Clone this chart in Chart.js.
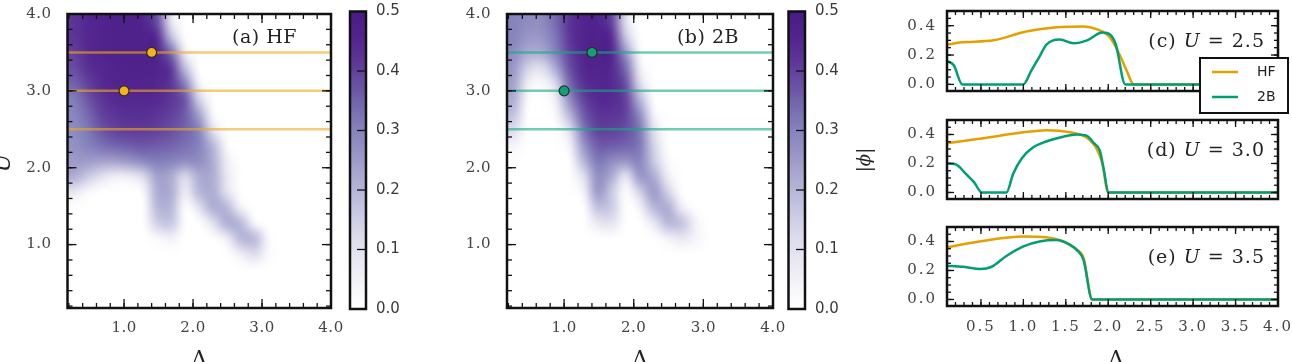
<!DOCTYPE html>
<html lang="en">
<head>
  <meta charset="UTF-8">
  <title>HF vs 2B order parameter</title>
  <style>
    html, body { margin: 0; padding: 0; background: #fff; }
    #wrap { position: relative; width: 1292px; height: 362px; overflow: hidden; }
    #wrap canvas { position: absolute; left: 0; top: 0; }
  </style>
  <script src="https://cdn.jsdelivr.net/npm/chart.js"></script>
</head>
<body>
<div id="wrap">
  <canvas id="heatA" width="1292" height="362"></canvas>
  <canvas id="cbarA" width="1292" height="362"></canvas>
  <canvas id="heatB" width="1292" height="362"></canvas>
  <canvas id="cbarB" width="1292" height="362"></canvas>
  <canvas id="cutC" width="1292" height="362"></canvas>
  <canvas id="cutD" width="1292" height="362"></canvas>
  <canvas id="cutE" width="1292" height="362"></canvas>
</div>

<script>
  // ---- data ----
  // heatmap cell centres
  const gridDelta = [0.3, 0.5, 0.7, 0.9, 1.1, 1.3, 1.5, 1.7, 1.9, 2.1, 2.3, 2.5, 2.7, 2.9, 3.1, 3.3, 3.5, 3.7, 3.9];
  const gridU = [3.9, 3.7, 3.5, 3.3, 3.1, 2.9, 2.7, 2.5, 2.3, 2.1, 1.9, 1.7, 1.5, 1.3, 1.1, 0.9, 0.7, 0.5, 0.3];

  // |phi| on the grid, rows follow gridU, columns follow gridDelta
  const hfGrid = [
    [.42,.45,.46,.47,.47,.46,.38,.08,0,0,0,0,0,0,0,0,0,0,0],
    [.42,.45,.46,.47,.47,.47,.44,.18,0,0,0,0,0,0,0,0,0,0,0],
    [.40,.44,.46,.47,.47,.47,.46,.34,.06,0,0,0,0,0,0,0,0,0,0],
    [.38,.43,.45,.46,.47,.47,.46,.42,.18,0,0,0,0,0,0,0,0,0,0],
    [.35,.40,.44,.46,.46,.46,.45,.42,.30,.04,0,0,0,0,0,0,0,0,0],
    [.31,.37,.42,.44,.45,.45,.44,.42,.37,.14,0,0,0,0,0,0,0,0,0],
    [.29,.34,.40,.42,.43,.43,.42,.40,.36,.24,.02,0,0,0,0,0,0,0,0],
    [.28,.32,.37,.40,.41,.41,.40,.38,.35,.30,.10,0,0,0,0,0,0,0,0],
    [.27,.30,.33,.35,.36,.37,.36,.35,.33,.30,.20,.02,0,0,0,0,0,0,0],
    [.25,.25,.24,.24,.26,.29,.31,.30,.28,.28,.22,.06,0,0,0,0,0,0,0],
    [.22,.16,.10,.05,.06,.12,.24,.22,.12,.22,.22,.08,0,0,0,0,0,0,0],
    [.08,.02,0,0,0,.02,.22,.22,.06,.20,.22,.10,0,0,0,0,0,0,0],
    [0,0,0,0,0,0,.20,.20,0,.10,.22,.20,.04,0,0,0,0,0,0],
    [0,0,0,0,0,0,.15,.17,0,0,.10,.22,.20,.02,0,0,0,0,0],
    [0,0,0,0,0,0,.02,.05,0,0,0,.06,.20,.20,.02,0,0,0,0],
    [0,0,0,0,0,0,0,0,0,0,0,0,.06,.12,.02,0,0,0,0],
    [0,0,0,0,0,0,0,0,0,0,0,0,0,0,0,0,0,0,0],
    [0,0,0,0,0,0,0,0,0,0,0,0,0,0,0,0,0,0,0],
    [0,0,0,0,0,0,0,0,0,0,0,0,0,0,0,0,0,0,0]
  ];
  const twoBGrid = [
    [.30,.28,.28,.34,.42,.46,.46,.40,.10,0,0,0,0,0,0,0,0,0,0],
    [.30,.26,.26,.32,.42,.46,.47,.44,.16,0,0,0,0,0,0,0,0,0,0],
    [.28,.22,.22,.30,.40,.46,.47,.46,.26,.02,0,0,0,0,0,0,0,0,0],
    [.26,.14,.10,.22,.38,.45,.46,.45,.34,.06,0,0,0,0,0,0,0,0,0],
    [.24,.06,.02,.12,.34,.43,.45,.44,.38,.12,0,0,0,0,0,0,0,0,0],
    [.22,.02,0,.06,.28,.40,.44,.44,.40,.20,0,0,0,0,0,0,0,0,0],
    [.18,0,0,.02,.20,.36,.42,.42,.40,.28,.04,0,0,0,0,0,0,0,0],
    [.12,0,0,0,.10,.32,.40,.40,.38,.32,.10,0,0,0,0,0,0,0,0],
    [.04,0,0,0,.04,.26,.36,.36,.35,.32,.14,0,0,0,0,0,0,0,0],
    [0,0,0,0,0,.20,.32,.28,.26,.30,.16,.02,0,0,0,0,0,0,0],
    [0,0,0,0,0,.10,.28,.22,.08,.26,.22,.06,0,0,0,0,0,0,0],
    [0,0,0,0,0,.04,.26,.16,0,.14,.26,.14,0,0,0,0,0,0,0],
    [0,0,0,0,0,0,.18,.16,0,.04,.20,.22,.06,0,0,0,0,0,0],
    [0,0,0,0,0,0,.08,.10,0,0,.08,.20,.18,.04,0,0,0,0,0],
    [0,0,0,0,0,0,0,0,0,0,0,.04,.08,.04,0,0,0,0,0],
    [0,0,0,0,0,0,0,0,0,0,0,0,0,0,0,0,0,0,0],
    [0,0,0,0,0,0,0,0,0,0,0,0,0,0,0,0,0,0,0],
    [0,0,0,0,0,0,0,0,0,0,0,0,0,0,0,0,0,0,0],
    [0,0,0,0,0,0,0,0,0,0,0,0,0,0,0,0,0,0,0]
  ];

  // cuts at fixed U and the two marked points
  const cutU = [2.5, 3.0, 3.5];
  const cutDelta = [0.1, 4.0];
  const markDelta = [1.0, 1.4];
  const markU = [3.0, 3.5];

  // tick labels
  const heatTicks = [1.0, 2.0, 3.0, 4.0];
  const cbarTicks = [0.0, 0.1, 0.2, 0.3, 0.4, 0.5];
  const phiTicks = [0.0, 0.2, 0.4];
  const cutTicks = [0.5, 1.0, 1.5, 2.0, 2.5, 3.0, 3.5, 4.0];

  // |phi| along the cuts
  const cHfDelta = [0.1, 0.25, 0.65, 1.03, 1.39, 1.71, 1.87, 2.02, 2.14, 2.22, 2.3, 4.0];
  const cHfPhi   = [0.27, 0.285, 0.30, 0.36, 0.39, 0.395, 0.375, 0.32, 0.195, 0.09, 0.0, 0.0];
  const c2bDelta = [0.1, 0.18, 0.28, 1.0, 1.09, 1.19, 1.27, 1.35, 1.43, 1.59, 1.75, 1.93, 2.02, 2.09, 2.2, 4.0];
  const c2bPhi   = [0.16, 0.13, 0.0, 0.0, 0.09, 0.19, 0.27, 0.30, 0.305, 0.28, 0.30, 0.354, 0.34, 0.27, 0.0, 0.0];

  const dHfDelta = [0.1, 0.48, 1.0, 1.27, 1.55, 1.75, 1.87, 1.93, 2.0, 4.0];
  const dHfPhi   = [0.34, 0.37, 0.415, 0.43, 0.415, 0.377, 0.294, 0.2, 0.0, 0.0];
  const d2bDelta = [0.1, 0.2, 0.32, 0.42, 0.51, 0.8, 0.88, 0.98, 1.1, 1.26, 1.47, 1.63, 1.75, 1.83, 1.9, 1.95, 2.0, 4.0];
  const d2bPhi   = [0.2, 0.195, 0.13, 0.07, 0.0, 0.0, 0.13, 0.235, 0.305, 0.35, 0.385, 0.40, 0.39, 0.34, 0.29, 0.15, 0.0, 0.0];

  const eHfDelta = [0.1, 0.48, 1.0, 1.27, 1.47, 1.63, 1.71, 1.81, 4.0];
  const eHfPhi   = [0.36, 0.40, 0.434, 0.43, 0.40, 0.343, 0.285, 0.0, 0.0];
  const e2bDelta = [0.1, 0.28, 0.5, 0.62, 0.8, 1.0, 1.19, 1.39, 1.55, 1.65, 1.71, 1.81, 4.0];
  const e2bPhi   = [0.233, 0.225, 0.21, 0.224, 0.30, 0.366, 0.40, 0.41, 0.377, 0.33, 0.27, 0.0, 0.0];

  // ---- style ----
  const W = 1292, H = 362;
  const ORANGE = '#E69F00', GREEN = '#009E73';
  const SERIF = '"DejaVu Serif", serif';
  const SANS = '"DejaVu Sans", sans-serif';
  const PHI_MAX = 0.5;
  const purpleStops = [[255,255,255],[239,237,245],[218,218,235],[188,189,220],[158,154,200],[128,125,186],[106,81,163],[86,42,145],[72,26,134]];

  function purple(t) {
    t = Math.max(0, Math.min(1, t));
    const p = t * (purpleStops.length - 1);
    const i = Math.min(Math.floor(p), purpleStops.length - 2);
    const f = p - i;
    return purpleStops[i].map((c, k) => Math.round(c + (purpleStops[i + 1][k] - c) * f));
  }

  // heatmap: grid painted on a tiny canvas, stretched over the axes (smoothed)
  const heatmapPlugin = {
    id: 'heatmap',
    beforeDatasetsDraw(chart, args, opts) {
      if (!opts.grid) return;
      const {x, y} = chart.scales;
      const cols = gridDelta.length, rows = gridU.length;
      const off = document.createElement('canvas');
      off.width = cols; off.height = rows;
      const octx = off.getContext('2d');
      const img = octx.createImageData(cols, rows);
      opts.grid.forEach((row, r) => row.forEach((v, c) => {
        const rgb = purple(v / PHI_MAX);
        const i = (r * cols + c) * 4;
        img.data[i] = rgb[0]; img.data[i + 1] = rgb[1]; img.data[i + 2] = rgb[2]; img.data[i + 3] = 255;
      }));
      octx.putImageData(img, 0, 0);
      const hx = Math.abs(gridDelta[1] - gridDelta[0]) / 2;
      const hy = Math.abs(gridU[0] - gridU[1]) / 2;
      const left = x.getPixelForValue(gridDelta[0] - hx);
      const right = x.getPixelForValue(gridDelta[cols - 1] + hx);
      const top = y.getPixelForValue(gridU[0] + hy);
      const bottom = y.getPixelForValue(gridU[rows - 1] - hy);
      const ctx = chart.ctx;
      const a = chart.chartArea;
      ctx.save();
      ctx.beginPath();
      ctx.rect(a.left, a.top, a.width, a.height);
      ctx.clip();
      ctx.imageSmoothingEnabled = true;
      ctx.imageSmoothingQuality = 'high';
      ctx.drawImage(off, left - 2, top, right - left + 2, bottom - top + 2);
      ctx.restore();
    }
  };

  // colorbar gradient
  const cbarPlugin = {
    id: 'cbar',
    beforeDatasetsDraw(chart, args, opts) {
      if (!opts.on) return;
      const y = chart.scales.y, a = chart.chartArea, ctx = chart.ctx;
      const y0 = y.getPixelForValue(0), y1 = y.getPixelForValue(PHI_MAX);
      const g = ctx.createLinearGradient(0, y0, 0, y1);
      for (let k = 0; k <= 20; k++) {
        const c = purple(k / 20);
        g.addColorStop(k / 20, `rgb(${c[0]},${c[1]},${c[2]})`);
      }
      ctx.save();
      ctx.fillStyle = g;
      ctx.fillRect(a.left, y1, a.width, y0 - y1);
      ctx.restore();
    }
  };

  // box frame with inward ticks on all sides
  const framePlugin = {
    id: 'frame',
    beforeDraw(chart, args, o) {
      chart.ctx.letterSpacing = o.spacing || '0px';
    },
    afterDatasetsDraw(chart, args, o) {
      const {ctx, chartArea: a} = chart;
      const {x, y} = chart.scales;
      ctx.save();
      ctx.strokeStyle = '#111';
      ctx.lineWidth = 1.3;
      const seg = (x0, y0, x1, y1) => { ctx.beginPath(); ctx.moveTo(x0, y0); ctx.lineTo(x1, y1); ctx.stroke(); };
      const marks = (scale, step, len, horiz) => {
        if (!step) return;
        const n0 = Math.ceil(scale.min / step - 1e-6), n1 = Math.floor(scale.max / step + 1e-6);
        for (let n = n0; n <= n1; n++) {
          const p = scale.getPixelForValue(n * step);
          if (horiz) { seg(p, a.bottom, p, a.bottom - len); seg(p, a.top, p, a.top + len); }
          else {
            if (!o.rightOnly) seg(a.left, p, a.left + len, p);
            seg(a.right, p, a.right - len, p);
          }
        }
      };
      if (x && x.options.display !== false) {
        marks(x, o.xMinor, o.minorLen, true);
        marks(x, o.xMajor, o.majorLen, true);
      }
      marks(y, o.yMinor, o.minorLen, false);
      marks(y, o.yMajor, o.majorLen, false);
      ctx.lineWidth = 2.5;
      ctx.strokeRect(a.left, a.top, a.width, a.height);
      ctx.restore();
    }
  };

  // free text (panel tags, axis titles)
  function drawParts(ctx, parts, x, y, align, rot, baseline, spacing) {
    ctx.save();
    ctx.translate(x, y);
    if (rot) ctx.rotate(rot);
    ctx.letterSpacing = spacing || '0px';
    ctx.textAlign = 'left';
    ctx.textBaseline = baseline || 'middle';
    ctx.fillStyle = '#222';
    let total = 0;
    parts.forEach(p => { ctx.font = p.font; total += ctx.measureText(p.text).width; });
    let cx = align === 'right' ? -total : align === 'center' ? -total / 2 : 0;
    parts.forEach(p => { ctx.font = p.font; ctx.fillText(p.text, cx, 0); cx += ctx.measureText(p.text).width; });
    ctx.restore();
  }

  const textPlugin = {
    id: 'texts',
    afterDraw(chart, args, opts) {
      (opts.items || []).forEach(it => {
        const a = chart.chartArea;
        const x = it.from === 'right' ? a.right + it.dx : it.from === 'center' ? (a.left + a.right) / 2 + it.dx : it.x;
        const y = it.y !== undefined ? it.y : a.top + it.dy;
        drawParts(chart.ctx, it.parts, x, y, it.align, it.rot, it.baseline, it.spacing);
      });
    }
  };

  // legend box of the cut panels
  const legendPlugin = {
    id: 'boxLegend',
    afterDraw(chart, args, opts) {
      if (!opts.on) return;
      const ctx = chart.ctx;
      const bx = 1200, by = 58, bw = 88, bh = 55;
      ctx.save();
      ctx.letterSpacing = '0px';
      ctx.fillStyle = '#fff';
      ctx.fillRect(bx, by, bw, bh);
      ctx.strokeStyle = '#111';
      ctx.lineWidth = 2;
      ctx.strokeRect(bx, by, bw, bh);
      [['HF', ORANGE, by + 14], ['2B', GREEN, by + 39]].forEach(([t, c, yy]) => {
        ctx.strokeStyle = c;
        ctx.lineWidth = 2.5;
        ctx.beginPath(); ctx.moveTo(bx + 12, yy); ctx.lineTo(bx + 38, yy); ctx.stroke();
        ctx.fillStyle = '#222';
        ctx.font = '14px ' + SANS;
        ctx.textBaseline = 'middle';
        ctx.fillText(t, bx + 57, yy);
      });
      ctx.restore();
    }
  };

  const fmt1 = v => Number(v).toFixed(1);
  const fixTicks = list => s => { s.ticks = list.map(v => ({value: v})); };
  // fix the scale box size and drop the label overhang padding so the plot box lands where we want it
  const fitTo = (prop, size) => s => {
    s[prop] = size;
    s.paddingTop = s.paddingBottom = s.paddingLeft = s.paddingRight = 0;
  };

  function base(area, extra) {
    return Object.assign({
      responsive: false,
      animation: false,
      events: [],
      layout: { padding: { left: 0, top: area.top, right: W - area.right, bottom: 0 } },
    }, extra);
  }

  // ---- heatmap panels ----
  function heatChart(id, grid, area, cutColor, markColor, tag, extraTexts) {
    const lines = cutU.map(u => ({
      data: cutDelta.map(d => ({x: d, y: u})),
      showLine: true, borderColor: cutColor, borderWidth: 2.5, pointRadius: 0
    }));
    return new Chart(document.getElementById(id), {
      type: 'scatter',
      data: {
        datasets: [{
          data: markDelta.map((d, i) => ({x: d, y: markU[i]})),
          pointRadius: 5, pointBackgroundColor: markColor,
          pointBorderColor: '#2b2b2b', pointBorderWidth: 1.2
        }].concat(lines)
      },
      options: base(area, {
        scales: {
          x: {
            type: 'linear', min: 0.18, max: 4.0,
            afterBuildTicks: fixTicks(heatTicks),
            afterFit: fitTo('height', H - area.bottom),
            grid: { display: false, drawTicks: false }, border: { display: false },
            ticks: { callback: fmt1, color: '#444', padding: 11, maxRotation: 0, autoSkip: false,
                     font: { family: SERIF, size: 15 } }
          },
          y: {
            type: 'linear', min: 0.175, max: 4.0,
            afterBuildTicks: fixTicks(heatTicks),
            afterFit: fitTo('width', area.left),
            grid: { display: false, drawTicks: false }, border: { display: false },
            ticks: { callback: fmt1, color: '#444', padding: 16, autoSkip: false,
                     font: { family: SERIF, size: 15 } }
          }
        },
        plugins: {
          legend: { display: false }, tooltip: { enabled: false },
          heatmap: { grid: grid },
          frame: { xMajor: 1, xMinor: 0.2, yMajor: 1, yMinor: 0.2, majorLen: 9, minorLen: 5, spacing: '0.5px' },
          texts: { items: [
            { parts: [{ text: tag, font: '19px ' + SERIF }], from: 'right', dx: -34, dy: 24, align: 'right', spacing: '0.5px' },
            { parts: [{ text: 'Δ', font: '22px ' + SERIF }], from: 'center', dx: 0, y: 366, align: 'center', baseline: 'alphabetic' }
          ].concat(extraTexts || []) }
        }
      }),
      plugins: [heatmapPlugin, framePlugin, textPlugin]
    });
  }

  function cbarChart(id, area, extraTexts) {
    return new Chart(document.getElementById(id), {
      type: 'scatter',
      data: { datasets: [{ data: [] }] },
      options: Object.assign(base(area), {
        layout: { padding: { left: area.left, top: area.top, right: 0, bottom: H - area.bottom } },
        scales: {
          x: { type: 'linear', display: false, min: 0, max: 1 },
          y: {
            type: 'linear', position: 'right', min: 0, max: PHI_MAX,
            afterBuildTicks: fixTicks(cbarTicks),
            afterFit: fitTo('width', W - area.right),
            grid: { display: false, drawTicks: false }, border: { display: false },
            ticks: { callback: fmt1, color: '#3a3a3a', padding: 10, autoSkip: false,
                     font: { family: SANS, size: 15 } }
          }
        },
        plugins: {
          legend: { display: false }, tooltip: { enabled: false },
          cbar: { on: true },
          frame: { yMajor: 0.1, majorLen: 9, rightOnly: true },
          texts: { items: extraTexts || [] }
        }
      }),
      plugins: [cbarPlugin, framePlugin, textPlugin]
    });
  }

  // ---- cut panels ----
  function cutChart(id, area, hfD, hfP, bD, bP, uText, showX, extra) {
    const pts = (ds, ps) => ds.map((d, i) => ({x: d, y: ps[i]}));
    return new Chart(document.getElementById(id), {
      type: 'line',
      data: {
        datasets: [
          { label: '2B', data: pts(bD, bP), borderColor: GREEN, borderWidth: 2.5, pointRadius: 0, cubicInterpolationMode: 'monotone' },
          { label: 'HF', data: pts(hfD, hfP), borderColor: ORANGE, borderWidth: 2.5, pointRadius: 0, cubicInterpolationMode: 'monotone' }
        ]
      },
      options: base(area, {
        scales: {
          x: {
            type: 'linear', min: 0.1, max: 4.0,
            afterBuildTicks: fixTicks(cutTicks),
            afterFit: fitTo('height', H - area.bottom),
            grid: { display: false, drawTicks: false }, border: { display: false },
            ticks: { display: showX, callback: fmt1, color: '#444', padding: 12, maxRotation: 0, autoSkip: false,
                     font: { family: SERIF, size: 15 } }
          },
          y: {
            type: 'linear', min: -0.045, max: 0.5,
            afterBuildTicks: fixTicks(phiTicks),
            afterFit: fitTo('width', area.left),
            grid: { display: false, drawTicks: false }, border: { display: false },
            ticks: { callback: fmt1, color: '#444', padding: 10, autoSkip: false,
                     font: { family: SERIF, size: 15 } }
          }
        },
        plugins: {
          legend: { display: false }, tooltip: { enabled: false },
          frame: { xMajor: 0.5, xMinor: 0.1, yMajor: 0.2, yMinor: 0.05, majorLen: 7, minorLen: 4, spacing: '2px' },
          boxLegend: { on: !!(extra && extra.legend) },
          texts: { items: [
            { parts: [
                { text: uText[0], font: '19px ' + SERIF },
                { text: 'U', font: 'italic 19px ' + SERIF },
                { text: uText[1], font: '19px ' + SERIF }
              ], from: 'right', dx: -13, dy: 31, align: 'right', spacing: '1px' }
          ].concat((extra && extra.texts) || []) }
        }
      }),
      plugins: [framePlugin, textPlugin, legendPlugin]
    });
  }

  heatChart('heatA', hfGrid, { left: 67.5, top: 14, right: 331, bottom: 308 },
    'rgba(240,168,30,0.6)', '#F2B21A', '(a) HF',
    [{ parts: [{ text: 'U', font: 'italic 22px ' + SERIF }], x: 10, y: 163, rot: -Math.PI / 2, align: 'center', baseline: 'alphabetic' }]);
  cbarChart('cbarA', { left: 350, top: 11.5, right: 366, bottom: 309 });

  heatChart('heatB', twoBGrid, { left: 507, top: 14, right: 773, bottom: 308 },
    'rgba(20,170,130,0.6)', '#12A07A', '(b) 2B');
  cbarChart('cbarB', { left: 788.5, top: 11.5, right: 805, bottom: 309 },
    [{ parts: [{ text: '|', font: '18px ' + SERIF }, { text: 'ϕ', font: 'italic 18px ' + SERIF }, { text: '|', font: '18px ' + SERIF }],
       x: 865, y: 160, rot: -Math.PI / 2, align: 'center' }]);

  cutChart('cutC', { left: 947, top: 11, right: 1278, bottom: 91 }, cHfDelta, cHfPhi, c2bDelta, c2bPhi,
    ['(c) ', ' = 2.5'], false, { legend: true });
  cutChart('cutD', { left: 947, top: 120, right: 1278, bottom: 199 }, dHfDelta, dHfPhi, d2bDelta, d2bPhi,
    ['(d) ', ' = 3.0'], false);
  cutChart('cutE', { left: 947, top: 227, right: 1278, bottom: 306 }, eHfDelta, eHfPhi, e2bDelta, e2bPhi,
    ['(e) ', ' = 3.5'], true,
    { texts: [{ parts: [{ text: 'Δ', font: '22px ' + SERIF }], x: 1116, y: 366, align: 'center', baseline: 'alphabetic' }] });
</script>
</body>
</html>
